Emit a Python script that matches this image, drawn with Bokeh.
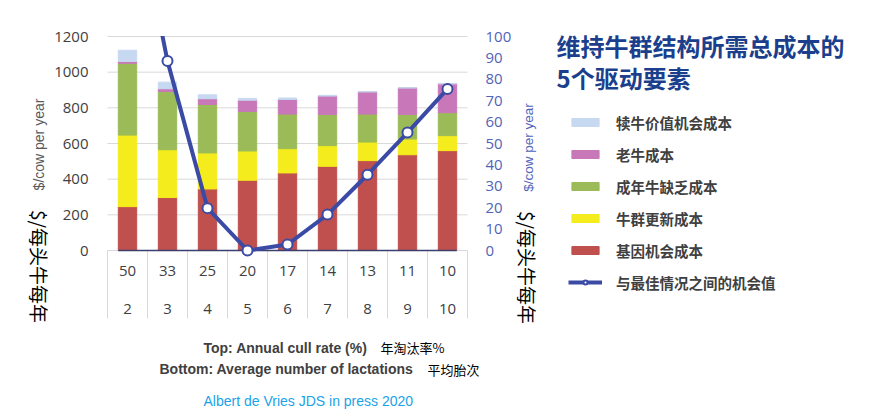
import math
from bokeh.plotting import figure
from bokeh.models import Range1d, Label, Legend, LegendItem, ColumnDataSource
from bokeh.core.properties import value
from bokeh.embed import file_html
from bokeh.resources import INLINE

# ---------------- data ----------------
lactations = ["2", "3", "4", "5", "6", "7", "8", "9", "10"]
cull_rates = ["50", "33", "25", "20", "17", "14", "13", "11", "10"]
genetic = [246, 297, 345, 394, 435, 472, 504, 537, 560]
replacement = [401, 268, 202, 164, 136, 116, 104, 88, 84]
shortage = [403, 327, 272, 222, 194, 175, 157, 138, 129]
old_cow = [10, 15, 32, 63, 82, 103, 125, 149, 162]
calf_value = [63, 37, 22, 10, 8, 4, 0, 0, 0]
gap = [182, 88.5, 19.8, 0, 2.8, 16.8, 35.4, 55.1, 75.5]

series_names = ["基因机会成本", "牛群更新成本", "成年牛缺乏成本", "老牛成本", "犊牛价值机会成本"]
series_colors = ["#c0504d", "#f4ec1c", "#9bbb59", "#c878b8", "#c6d9f1"]
line_name = "与最佳情况之间的机会值"
left_ticks = [0, 200, 400, 600, 800, 1000, 1200]
right_ticks = [0, 10, 20, 30, 40, 50, 60, 70, 80, 90, 100]

# ---------------- layout constants (pixels) ----------------
W, H = 869, 417
TOP = 28                                # top of the drawing frame
FL, FR, FT, FB = 107, 467, 36, 250     # plot area
SEP_BOTTOM = 318                        # bottom of category separators
ROW1_Y, ROW2_Y = 270, 308               # category label rows

xs = list(range(1, len(lactations) + 1))
edges = [x - 0.5 for x in xs] + [xs[-1] + 0.5]
keys = ["genetic", "replacement", "shortage", "old_cow", "calf_value"]
source = ColumnDataSource(dict(x=xs, genetic=genetic, replacement=replacement,
                               shortage=shortage, old_cow=old_cow, calf_value=calf_value,
                               gap=gap))

# scales: the plotting frame covers the canvas below TOP; ranges are set so that
# the data area sits at (FL..FR, FT..FB)
ux = (edges[-1] - edges[0]) / (FR - FL)
x_range = Range1d(edges[0] - FL * ux, edges[-1] + (W - FR) * ux)
ly0, ly1 = left_ticks[0], left_ticks[-1]
uy = (ly1 - ly0) / (FB - FT)
y_range = Range1d(ly0 - (H - FB) * uy, ly1 + (FT - TOP) * uy)
ry0, ry1 = right_ticks[0], right_ticks[-1]
ur = (ry1 - ry0) / (FB - FT)

p = figure(width=W, height=H, x_range=x_range, y_range=y_range, title=None,
           output_backend="svg", toolbar_location=None,
           min_border_left=0, min_border_right=0, min_border_top=TOP, min_border_bottom=0,
           x_axis_type=None, y_axis_type=None, outline_line_color=None,
           background_fill_color="white", border_fill_color="white")
p.extra_y_ranges = {"r": Range1d(ry0 - (H - FB) * ur, ry1 + (FT - TOP) * ur),
                    "px": Range1d(H, TOP)}
p.extra_x_ranges = {"px": Range1d(0, W)}
p.xgrid.visible = False
p.ygrid.visible = False

# horizontal grid lines
p.segment(x0=[FL] * len(left_ticks), x1=[FR] * len(left_ticks), y0=left_ticks, y1=left_ticks,
          x_range_name="px", line_color="#d9d9d9", line_width=1)

# category separators below the plot area
p.segment(x0=edges, x1=edges, y0=[FB] * len(edges), y1=[SEP_BOTTOM] * len(edges),
          y_range_name="px", line_color="#d9d9d9", line_width=1)

tick_font = value("Open Sans")
# left tick labels
p.text(x=[FL - 19] * len(left_ticks), y=left_ticks, text=[str(t) for t in left_ticks],
       x_range_name="px", text_align="right", text_baseline="middle",
       text_font=tick_font, text_font_size="15px", text_color="#404040")
# right tick labels
p.text(x=[FR + 18] * len(right_ticks), y=right_ticks, text=[str(t) for t in right_ticks],
       x_range_name="px", y_range_name="r", text_align="left", text_baseline="middle",
       text_font=tick_font, text_font_size="15px", text_color="#5263b8")
# category labels (two rows)
p.text(x=xs, y=[ROW1_Y] * len(xs), text=cull_rates, y_range_name="px",
       text_align="center", text_baseline="middle",
       text_font=tick_font, text_font_size="15px", text_color="#404040")
p.text(x=xs, y=[ROW2_Y] * len(xs), text=lactations, y_range_name="px",
       text_align="center", text_baseline="middle",
       text_font=tick_font, text_font_size="15px", text_color="#404040")

# bars
bw = 0.46
bars = p.vbar_stack(keys, x="x", width=bw, color=series_colors, source=source)
p.segment(x0=[xs[0] - bw / 2], x1=[xs[-1] + bw / 2], y0=[0], y1=[0],
          line_color="#3b3f6b", line_width=1.5)

# line on secondary axis
line_color = "#3a4aa5"
ln = p.line("x", "gap", source=source, y_range_name="r", line_color=line_color, line_width=4)
sc = p.scatter("x", "gap", source=source, y_range_name="r", size=10, fill_color="white",
               line_color=line_color, line_width=2)

# mask: clip the line at the top of the plot area
p.quad(left=[FL - 2], right=[FR + 2], top=[0], bottom=[FT - 0.5],
       x_range_name="px", y_range_name="px", fill_color="white", line_color=None,
       level="overlay")

# legend
items = [LegendItem(label=series_names[i], renderers=[bars[i]]) for i in range(4, -1, -1)]
items.append(LegendItem(label=line_name, renderers=[ln, sc]))
legend = Legend(items=items, location=(568, H - 293), orientation="vertical",
                glyph_width=34, glyph_height=10, label_standoff=14, label_height=22,
                spacing=10, padding=0, margin=0, border_line_color=None,
                background_fill_alpha=0, label_text_font="Noto Sans CJK SC",
                label_text_font_size="14.5px", label_text_font_style="bold",
                label_text_color="#404040")
p.add_layout(legend)


def lab(sx, sy, text, size, color, font="Liberation Sans", style="normal",
        align="left", baseline="middle", angle=0.0):
    p.add_layout(Label(x=sx, y=H - sy, x_units="screen", y_units="screen", text=text,
                       text_font_size=size, text_color=color, text_font=font,
                       text_font_style=style, text_align=align, text_baseline=baseline,
                       angle=angle))


cjk = "Noto Sans CJK SC"
# title
lab(556, 45, "维持牛群结构所需总成本的", "24px", "#1b3f8d", cjk, "bold")
lab(556, 77, "5个驱动要素", "24px", "#1b3f8d", cjk, "bold")

# axis titles
lab(38, 144, "$/cow per year", "14px", "#595959", "Liberation Sans", angle=math.pi / 2, align="center")
lab(39, 266, "$/每头牛每年", "19px", "#000000", cjk, angle=-math.pi / 2, align="center")
lab(528, 147, "$/cow per year", "13.5px", "#5263b8", "Liberation Sans", angle=math.pi / 2, align="center")
lab(527, 267, "$/每头牛每年", "19px", "#000000", cjk, angle=-math.pi / 2, align="center")

# bottom notes
lab(203, 347, "Top: Annual cull rate (%)", "14px", "#404040", "Liberation Sans", "bold")
lab(380, 347, "年淘汰率%", "13px", "#000000", cjk)
lab(159, 368, "Bottom: Average number of lactations", "14px", "#404040", "Liberation Sans", "bold")
lab(427, 369, "平均胎次", "13px", "#000000", cjk)
lab(203, 400, "Albert de Vries JDS in press 2020", "14px", "#1aa3e8", "Liberation Sans")

open("out.html", "w").write(file_html(p, INLINE))
